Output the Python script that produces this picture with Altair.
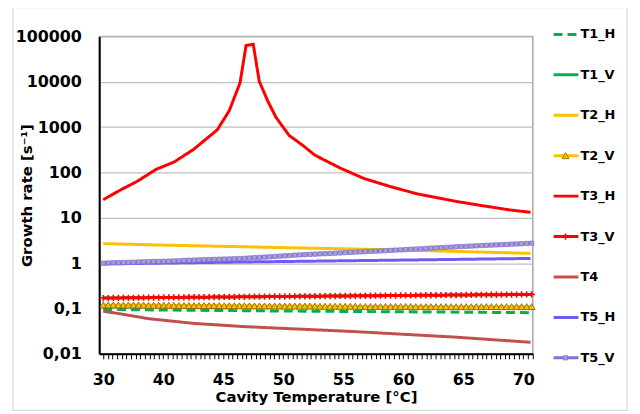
import altair as alt
import pandas as pd

# ---------------- data ----------------
names = ["T1_H", "T1_V", "T2_H", "T2_V", "T3_H", "T3_V", "T4", "T5_H", "T5_V"]

# fine category grid for the marker series
x_fine = [round(35 + 0.42 * i, 2) for i in range(86)]

t2v_y = [0.120, 0.120, 0.120, 0.120, 0.119, 0.119, 0.119, 0.119, 0.119, 0.118,
         0.118, 0.118, 0.118, 0.118, 0.117, 0.117, 0.117, 0.117, 0.117, 0.116,
         0.116, 0.116, 0.116, 0.116, 0.115, 0.115, 0.115, 0.115, 0.115, 0.115,
         0.114, 0.114, 0.114, 0.114, 0.114, 0.114, 0.113, 0.113, 0.113, 0.113,
         0.113, 0.113, 0.113, 0.112, 0.112, 0.112, 0.112, 0.112, 0.112, 0.112,
         0.112, 0.111, 0.111, 0.111, 0.111, 0.111, 0.111, 0.111, 0.111, 0.111,
         0.111, 0.111, 0.110, 0.110, 0.110, 0.110, 0.110, 0.110, 0.110, 0.110,
         0.110, 0.110, 0.110, 0.110, 0.110, 0.110, 0.110, 0.110, 0.110, 0.110,
         0.110, 0.110, 0.110, 0.110, 0.110, 0.110]

t3v_y = [0.170, 0.170, 0.171, 0.171, 0.172, 0.172, 0.172, 0.173, 0.173, 0.174,
         0.174, 0.174, 0.175, 0.175, 0.176, 0.176, 0.176, 0.177, 0.177, 0.178,
         0.178, 0.178, 0.179, 0.179, 0.180, 0.180, 0.180, 0.181, 0.181, 0.182,
         0.182, 0.182, 0.183, 0.183, 0.184, 0.184, 0.184, 0.185, 0.185, 0.186,
         0.186, 0.186, 0.187, 0.187, 0.188, 0.188, 0.188, 0.189, 0.189, 0.190,
         0.190, 0.190, 0.191, 0.191, 0.192, 0.192, 0.192, 0.193, 0.193, 0.194,
         0.194, 0.194, 0.195, 0.195, 0.196, 0.196, 0.196, 0.197, 0.197, 0.198,
         0.198, 0.198, 0.199, 0.199, 0.200, 0.200, 0.200, 0.201, 0.201, 0.202,
         0.202, 0.203, 0.203, 0.204, 0.204, 0.205]

t5v_y = [1.00, 1.01, 1.02, 1.03, 1.035, 1.04, 1.05, 1.06, 1.07, 1.08,
         1.09, 1.095, 1.10, 1.11, 1.12, 1.13, 1.15, 1.16, 1.17, 1.18,
         1.19, 1.20, 1.21, 1.22, 1.23, 1.24, 1.25, 1.265, 1.28, 1.30,
         1.32, 1.34, 1.36, 1.38, 1.40, 1.43, 1.45, 1.47, 1.50, 1.52,
         1.54, 1.56, 1.58, 1.60, 1.62, 1.64, 1.66, 1.68, 1.71, 1.73,
         1.75, 1.77, 1.80, 1.82, 1.84, 1.86, 1.88, 1.91, 1.94, 1.96,
         1.99, 2.02, 2.05, 2.08, 2.11, 2.14, 2.17, 2.20, 2.23, 2.26,
         2.29, 2.32, 2.35, 2.38, 2.41, 2.44, 2.47, 2.50, 2.53, 2.56,
         2.59, 2.62, 2.65, 2.68, 2.72, 2.75]

t3h_x = [35.0, 36.5, 37.8, 39.4, 40.9, 42.5, 44.5, 45.5, 46.4, 46.9, 47.5, 48.0,
         48.7, 49.4, 50.5, 51.6, 52.6, 53.3, 54.8, 56.7, 58.9, 61.1, 64.4, 66.6,
         68.8, 70.6]
t3h_y = [25, 42, 63, 117, 170, 318, 870, 2300, 9500, 63000, 67000, 10200,
         3800, 1630, 650, 400, 245, 195, 123, 74, 49, 34, 23, 18.5,
         15, 13.2]

t2h_x = [35.0, 40.0, 46.6, 53.0, 59.0, 65.0, 70.6]
t2h_y = [2.7, 2.5, 2.3, 2.12, 1.97, 1.8, 1.64]

t5h_x = [35.0, 46.6, 59.0, 70.6]
t5h_y = [0.96, 1.06, 1.16, 1.27]

t1h_x = [35.0, 50.0, 70.6]
t1h_y = [0.095, 0.088, 0.081]

t1v_x = [35.0, 70.6]
t1v_y = [0.17, 0.205]

t4_x = [35.0, 36.2, 38.7, 42.5, 46.65, 55.9, 64.2, 70.6]
t4_y = [0.087, 0.078, 0.060, 0.047, 0.040, 0.031, 0.0235, 0.018]

y_ticks = [0.01, 0.1, 1, 10, 100, 1000, 10000, 100000]

series_xy = {
    "T1_H": (t1h_x, t1h_y), "T1_V": (t1v_x, t1v_y), "T2_H": (t2h_x, t2h_y),
    "T2_V": (x_fine, t2v_y), "T3_H": (t3h_x, t3h_y), "T3_V": (x_fine, t3v_y),
    "T4": (t4_x, t4_y), "T5_H": (t5h_x, t5h_y), "T5_V": (x_fine, t5v_y),
}

# ---------------- styles ----------------
colors = ["#00B050", "#00B050", "#FFC000", "#FFC000", "#FF0000", "#FF0000",
          "#C0504D", "#6B5CF5", "#7F6FE0"]
widths = [3, 3, 3, 3, 3.5, 2, 2, 1.5, 1.5]
dashes = [[9, 5], [1, 0], [1, 0], [1, 0], [1, 0], [1, 0], [1, 0], [1, 0], [1, 0]]

markers = {
    "T2_V": dict(shape="triangle-up", fill="#FFC000", stroke="#7F6000",
                 strokeWidth=0.8, size=48, filled=True, opacity=1),
    "T3_V": dict(shape="M-1,0H1M0,-1V1", stroke="#FF0000", strokeWidth=1.6,
                 size=40, filled=False, opacity=1),
    "T5_V": dict(shape="square", fill="#A8A0C8", stroke="#7F6FE0",
                 strokeWidth=0.8, size=18, filled=True, opacity=1),
}

rows = []
for n in names:
    xs, ys = series_xy[n]
    for a, b in zip(xs, ys):
        rows.append({"series": n, "t": a, "g": b})
df = pd.DataFrame(rows)

font = "DejaVu Sans"
color_scale = alt.Scale(domain=names, range=colors)
size_scale = alt.Scale(domain=names, range=widths)
dash_scale = alt.Scale(domain=names, range=dashes)

xscale = alt.Scale(domain=[34.67, 70.79], nice=False, zero=False)
yscale = alt.Scale(type="log", domain=[0.01, 100000], nice=False)

x_tick_vals = [round(35 + i * 5 / 13, 4) for i in range(94)]
x_label_expr = ("abs(datum.value - round(datum.value/5)*5) < 0.01 ? "
                "(round(datum.value) == 35 ? '30' : format(round(datum.value), 'd')) : ''")

x_axis = alt.Axis(values=x_tick_vals, labelExpr=x_label_expr,
                  title="Cavity Temperature [°C]", grid=False, tickSize=5,
                  tickColor="black", tickWidth=1, domainColor="black", domainWidth=2,
                  labelFont=font, labelFontWeight="bold", labelFontSize=16,
                  labelColor="black", labelPadding=13, labelOverlap=False,
                  labelFlush=False, labelBound=False,
                  titleFont=font, titleFontWeight="bold", titleFontSize=15,
                  titleColor="black", titlePadding=2)
y_axis = alt.Axis(values=y_ticks, labelExpr="replace(toString(datum.value), '.', ',')",
                  title="Growth rate  [s⁻¹]", grid=True, gridColor="#BFBFBF",
                  gridWidth=1.3, tickSize=0, domainColor="black", domainWidth=2,
                  labelFont=font, labelFontWeight="bold", labelFontSize=16,
                  labelColor="black", labelPadding=18,
                  titleFont=font, titleFontWeight="bold", titleFontSize=15,
                  titleColor="black", titleAngle=270, titleX=-73, titleY=160,
                  titleAlign="center", titleBaseline="middle")

base = alt.Chart(df)
main_layers = []
for i, n in enumerate(names):
    main_layers.append(
        base.transform_filter(alt.datum.series == n).mark_line(clip=True).encode(
            x=alt.X("t:Q", scale=xscale, axis=x_axis),
            y=alt.Y("g:Q", scale=yscale, axis=y_axis),
            color=alt.Color("series:N", scale=color_scale, legend=None),
            size=alt.Size("series:N", scale=size_scale, legend=None),
            strokeDash=alt.StrokeDash("series:N", scale=dash_scale, legend=None),
        )
    )
    if n in markers:
        main_layers.append(
            base.transform_filter(alt.datum.series == n).mark_point(**markers[n]).encode(
                x=alt.X("t:Q", scale=xscale, axis=x_axis),
                y=alt.Y("g:Q", scale=yscale, axis=y_axis),
            )
        )
main = alt.layer(*main_layers)

# ---------------- custom legend ----------------
leg = pd.DataFrame({"series": names, "row": list(range(len(names)))})
ly = alt.Y("row:Q", scale=alt.Scale(domain=[0, 8], range=[-2, 324]), axis=None)
legbase = alt.Chart(leg)
leg_layers = [
    legbase.mark_rule().encode(
        x=alt.value(458), x2=alt.value(483), y=ly,
        color=alt.Color("series:N", scale=color_scale, legend=None),
        size=alt.Size("series:N", scale=size_scale, legend=None),
        strokeDash=alt.StrokeDash("series:N", scale=dash_scale, legend=None),
    ),
    legbase.mark_text(align="left", baseline="middle", font=font, fontWeight="bold",
                      fontSize=13, color="black").encode(
        x=alt.value(485), y=ly, text="series:N"),
]
for n in markers:
    leg_layers.append(
        legbase.transform_filter(alt.datum.series == n).mark_point(**markers[n]).encode(
            x=alt.value(470), y=ly)
    )
legend = alt.layer(*leg_layers)

frame = alt.Chart(pd.DataFrame({"a": [0]})).mark_rect(
    fill="white", fillOpacity=0, stroke="#D9D9D9", strokeWidth=1.2).encode(
    x=alt.value(-87), x2=alt.value(532), y=alt.value(-29), y2=alt.value(377))

chart = alt.layer(main, legend, frame).resolve_scale(y="independent").properties(
    width=437, height=320,
    autosize=alt.AutoSizeParams(type="none"),
    padding={"left": 92, "top": 27, "right": 100, "bottom": 58},
    background="white",
).configure_view(stroke="#A6A6A6", strokeWidth=1.5)

chart.save("out.html", embed_options={"renderer": "svg", "actions": False})
